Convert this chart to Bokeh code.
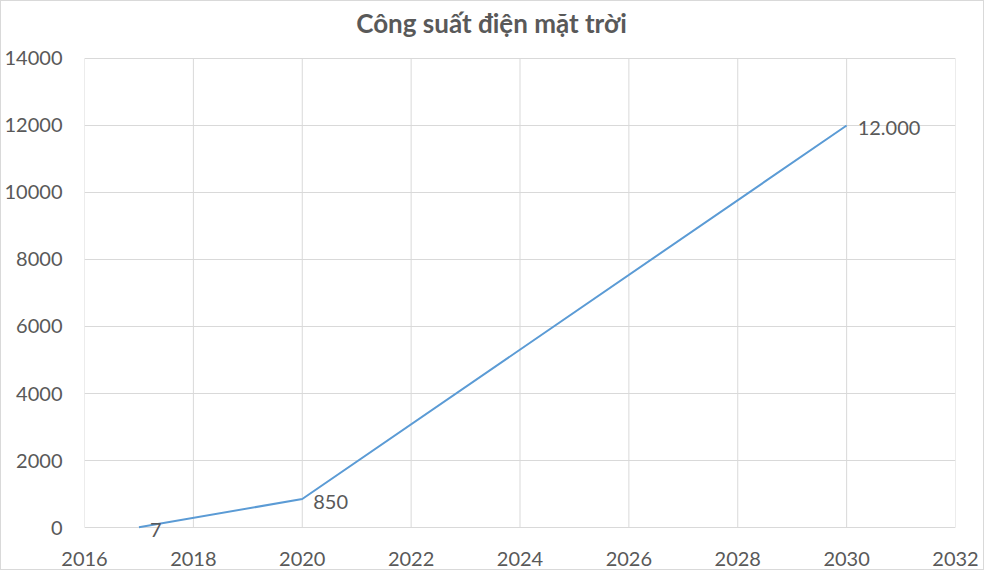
from bokeh.plotting import figure
from bokeh.models import ColumnDataSource, FixedTicker, Range1d, Label, LabelSet
from bokeh.core.properties import value
from bokeh.embed import file_html
from bokeh.resources import INLINE

years = [2017, 2020, 2030]
capacity = [7, 850, 12000]
labels = ["7", "850", "12.000"]
title_text = "Công suất điện mặt trời"
x_ticks = [2016, 2018, 2020, 2022, 2024, 2026, 2028, 2030, 2032]
y_ticks = [0, 2000, 4000, 6000, 8000, 10000, 12000, 14000]

FONT = "Lato"
TXT = "#595959"
GRID = "#d9d9d9"
W, H = 984, 570
BL, BR, BT, BB = 82, 30, 0, 26

# frame extended beyond the visible axis box so that the title and the "7" label are not clipped
p = figure(width=W, height=H, output_backend="svg", toolbar_location=None,
           x_range=Range1d(x_ticks[0], x_ticks[-1]), y_range=Range1d(-537, 15701),
           min_border_left=BL, min_border_right=BR, min_border_top=BT, min_border_bottom=BB)

# vertical grid lines restricted to the axis box
p.segment(x0=x_ticks, y0=[y_ticks[0]] * len(x_ticks), x1=x_ticks, y1=[y_ticks[-1]] * len(x_ticks),
          line_color=GRID, line_width=1)

# title (screen units measured from the frame's bottom-left corner)
p.add_layout(Label(x=489 - BL, y=(H - BB) - 21, x_units="screen", y_units="screen",
                   text=title_text, text_align="center", text_baseline="middle",
                   text_font=FONT, text_font_size="26px", text_font_style="bold",
                   text_color=TXT))

src = ColumnDataSource(dict(x=years, y=capacity, t=labels))
p.line("x", "y", source=src, line_color="#5b9bd5", line_width=2)
p.add_layout(LabelSet(x="x", y="y", text="t", source=src, x_offset=11, y_offset=-3,
                      text_baseline="middle", text_align="left", text_font=value(FONT),
                      text_font_size="20px", text_color=TXT))

p.xaxis.ticker = FixedTicker(ticks=x_ticks)
p.yaxis.ticker = FixedTicker(ticks=y_ticks)
for ax in (p.xaxis[0], p.yaxis[0]):
    ax.axis_line_color = None
    ax.major_tick_line_color = None
    ax.minor_tick_line_color = None
    ax.major_label_text_font = FONT
    ax.major_label_text_font_size = "20px"
    ax.major_label_text_color = TXT
p.yaxis.major_label_standoff = 16
p.xaxis.major_label_standoff = 0

p.xgrid.visible = False
p.ygrid.grid_line_color = GRID
p.ygrid.ticker = FixedTicker(ticks=y_ticks)
p.outline_line_color = None
p.background_fill_color = "white"
p.border_fill_color = "white"
p.styles = {"border": "1px solid #d9d9d9", "box-sizing": "border-box"}

open("out.html", "w").write(file_html(p, INLINE))
